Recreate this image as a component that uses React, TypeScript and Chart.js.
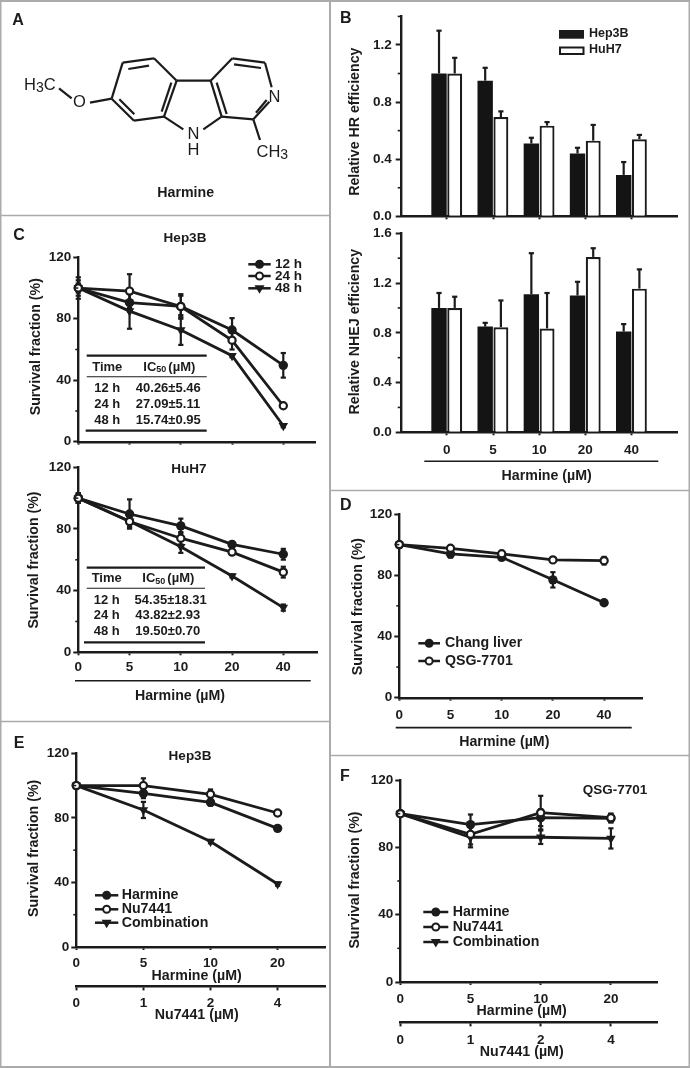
import React, { useEffect, useRef } from "react";
import { Chart, registerables } from "chart.js";

Chart.register(...registerables);
Chart.defaults.font.family = "'Liberation Sans', Arial, sans-serif";

// ---------- data ----------
const doses = ["0", "5", "10", "20", "40"];
const harmineDoses = ["0", "5", "10", "20"];
const nu7441Doses = ["0", "1", "2", "4"];

const hrHep3B = [1.0, 0.95, 0.51, 0.44, 0.29];
const hrHep3BErr = [0.3, 0.09, 0.04, 0.04, 0.09];
const hrHuH7 = [1.0, 0.695, 0.635, 0.53, 0.54];
const hrHuH7Err = [0.11, 0.04, 0.025, 0.11, 0.03];

const nhejHep3B = [1.0, 0.85, 1.11, 1.1, 0.81];
const nhejHep3BErr = [0.12, 0.03, 0.33, 0.11, 0.06];
const nhejHuH7 = [1.0, 0.845, 0.835, 1.41, 1.155];
const nhejHuH7Err = [0.09, 0.215, 0.285, 0.07, 0.155];

const hep12 = [100, 90.5, 88, 72.7, 49.7];
const hep12Err = [7, 6, 7, 7.7, 8];
const hep24 = [100, 98, 88, 66, 23.4];
const hep24Err = [5, 11, 8, 6, 1];
const hep48 = [100, 85, 72.7, 56, 10.4];
const hep48Err = [3, 11.5, 9.7, 1, 1];

const huh12 = [100, 89.7, 82, 70, 63.6];
const huh12Err = [3, 9.5, 4.7, 1.5, 3.5];
const huh24 = [100, 84.8, 74, 65, 52];
const huh24Err = [3, 3.5, 4, 1.5, 3.5];
const huh48 = [100, 85, 68.5, 49.5, 29];
const huh48Err = [3, 2, 4, 1, 2];

const chang = [100, 94, 91.7, 77, 62];
const changErr = [1, 2.5, 1, 5, 1];
const qsg = [100, 97.6, 94, 90, 89.5];
const qsgErr = [1, 1.5, 1, 1, 2.5];

const eHarmine = [100, 95.2, 89.6, 73.5];
const eHarmineErr = [1, 3, 2, 1];
const eNu = [100, 100, 94.6, 83];
const eNuErr = [1, 4.5, 3, 1];
const eCombo = [100, 84.9, 65.3, 39];
const eComboErr = [1, 5, 1, 1];

const fHarmine = [100, 93.5, 97.6, 97.2];
const fHarmineErr = [1, 6, 5, 2.5];
const fNu = [100, 87.7, 100.6, 97.6];
const fNuErr = [1, 6, 10, 2.5];
const fCombo = [100, 86, 86, 85.3];
const fComboErr = [1, 6, 4, 6];

const survivalMajor = [0, 40, 80, 120];
const survivalMinor = [20, 60, 100];
const hrMajor = [0, 0.4, 0.8, 1.2];
const hrMinor = [0.2, 0.6, 1.0, 1.4];
const nhejMajor = [0, 0.4, 0.8, 1.2, 1.6];
const nhejMinor = [0.2, 0.6, 1.0, 1.4];

const table1Rows = [["12 h", "40.26±5.46"], ["24 h", "27.09±5.11"], ["48 h", "15.74±0.95"]];
const table2Rows = [["12 h", "54.35±18.31"], ["24 h", "43.82±2.93"], ["48 h", "19.50±0.70"]];

// ---------- styling ----------
const INK = "#1b1b1b";
const FRAME = "#ababab";
const W = 690;
const H = 1068;
const TICK = 13.5;
const LABEL = 14.2;
const BOLD = "bold";
const AXIS_W = 2.4;
const LINE_W = 2.8;

type Tx = { t: string; x: number; y: number; size?: number; rot?: boolean; align?: CanvasTextAlign; weight?: string };
type Ru = [number, number, number, number, number?];
type Ln = { label: string; values: number[]; errors: number[]; marker: "filled" | "open" | "down" };

function text(ctx: CanvasRenderingContext2D, o: Tx) {
  ctx.save();
  ctx.fillStyle = INK;
  ctx.font = `${o.weight ?? BOLD} ${o.size ?? TICK}px 'Liberation Sans', Arial, sans-serif`;
  ctx.textAlign = o.align ?? "center";
  ctx.textBaseline = "middle";
  ctx.translate(o.x, o.y);
  if (o.rot) ctx.rotate(-Math.PI / 2);
  ctx.fillText(o.t, 0, 0);
  ctx.restore();
}

function runs(ctx: CanvasRenderingContext2D, parts: [string, number, number, number][], x: number, y: number, weight: string) {
  ctx.save();
  ctx.fillStyle = INK;
  ctx.textAlign = "left";
  ctx.textBaseline = "middle";
  let cx = x;
  for (const [t, size, dy, gap] of parts) {
    ctx.font = `${weight} ${size}px 'Liberation Sans', Arial, sans-serif`;
    ctx.fillText(t, cx, y + dy);
    cx += ctx.measureText(t).width + gap;
  }
  ctx.restore();
}

function rule(ctx: CanvasRenderingContext2D, r: Ru, color = INK) {
  ctx.save();
  ctx.strokeStyle = color;
  ctx.lineWidth = r[4] ?? 2;
  ctx.lineCap = "butt";
  ctx.beginPath();
  ctx.moveTo(r[0], r[1]);
  ctx.lineTo(r[2], r[3]);
  ctx.stroke();
  ctx.restore();
}

function marker(ctx: CanvasRenderingContext2D, kind: Ln["marker"], x: number, y: number) {
  ctx.save();
  ctx.strokeStyle = INK;
  ctx.fillStyle = kind === "open" ? "#fff" : INK;
  ctx.lineWidth = 2;
  ctx.beginPath();
  if (kind === "down") {
    ctx.moveTo(x - 5, y - 3);
    ctx.lineTo(x + 5, y - 3);
    ctx.lineTo(x, y + 5.5);
    ctx.closePath();
    ctx.fill();
  } else {
    ctx.arc(x, y, kind === "open" ? 3.5 : 4.5, 0, Math.PI * 2);
    ctx.fill();
    if (kind === "open") ctx.stroke();
  }
  ctx.restore();
}

const moleculeBonds: Ru[] = [
  [368, 188, 462, 175], [462, 175, 530, 242], [530, 242, 492, 350], [492, 350, 402, 362],
  [402, 362, 335, 296], [335, 296, 368, 188], [385, 207, 447, 197], [514, 248, 485, 335],
  [403, 343, 358, 298], [530, 242, 632, 242], [632, 242, 665, 350], [492, 350, 550, 388],
  [665, 350, 610, 388], [650, 248, 680, 342], [632, 242, 697, 175], [697, 175, 795, 188],
  [795, 188, 815, 262], [665, 350, 760, 358], [760, 358, 808, 305], [768, 338, 800, 300],
  [702, 193, 783, 204], [760, 358, 780, 420], [335, 296, 270, 308], [215, 295, 177, 265],
];

const frameLines: Ru[] = [
  [0, 1, 690, 1, 2], [0.5, 0, 0.5, 1068, 2], [689.5, 0, 689.5, 1068, 2], [0, 1067, 690, 1067, 2],
  [330, 0, 330, 1068, 2], [0, 215.5, 330, 215.5, 1.6], [0, 721.5, 330, 721.5, 1.6],
  [330, 490.5, 690, 490.5, 1.6], [330, 755.5, 690, 755.5, 1.6],
];

const letters: Tx[] = [
  { t: "A", x: 18, y: 21, size: 16 }, { t: "B", x: 345.7, y: 18.3, size: 16 },
  { t: "C", x: 19, y: 235.7, size: 16 }, { t: "D", x: 345.7, y: 505.7, size: 16 },
  { t: "E", x: 19, y: 743.3, size: 16 }, { t: "F", x: 345, y: 776.7, size: 16 },
];

function drawDecor(ctx: CanvasRenderingContext2D) {
  frameLines.forEach((r) => rule(ctx, r, FRAME));
  letters.forEach((l) => text(ctx, l));
  moleculeBonds.forEach((b) => rule(ctx, [b[0] / 3, b[1] / 3, b[2] / 3, b[3] / 3, 2.2]));
  const m = { size: 16.5, weight: "normal" };
  runs(ctx, [["H", 16.5, 0, 0], ["3", 14, 3, 0], ["C", 16.5, 0, 0]], 24, 85, "normal");
  text(ctx, { t: "O", x: 79.5, y: 102, ...m });
  text(ctx, { t: "N", x: 274.5, y: 97.7, ...m });
  text(ctx, { t: "N", x: 193.5, y: 134, ...m });
  text(ctx, { t: "H", x: 193.5, y: 150.5, ...m });
  runs(ctx, [["CH", 16.5, 0, 0], ["3", 14, 3, 0]], 256.5, 152.5, "normal");
  text(ctx, { t: "Harmine", x: 185.7, y: 193.5, size: 14.2 });
}

function drawTable(ctx: CanvasRenderingContext2D, t: any) {
  rule(ctx, [t.x1, t.top, t.x2, t.top, 2.2]);
  rule(ctx, [t.x1, t.mid, t.x2, t.mid, 1.1]);
  rule(ctx, [t.x0, t.bot, t.x2, t.bot, 2.2]);
  text(ctx, { t: "Time", x: t.c1, y: t.headY, size: 13 });
  runs(ctx, [["IC", 13, 0, 0], ["50", 9, 3, 2], ["(µM)", 13, 0, 0]], t.icX, t.headY, BOLD);
  t.rows.forEach((r: string[], i: number) => {
    text(ctx, { t: r[0], x: t.c1, y: t.rowY[i], size: 13 });
    text(ctx, { t: r[1], x: t.c2[i], y: t.rowY[i], size: 13 });
  });
}

// ---------- panels ----------
const panels: any[] = [
  {
    kind: "line", decor: true,
    box: { l: 78.3, r: 315, t: 257.3, b: 441.7 }, step: 51.25, xLabels: doses, xShow: false,
    series: [
      { label: "12 h", values: hep12, errors: hep12Err, marker: "filled" },
      { label: "24 h", values: hep24, errors: hep24Err, marker: "open" },
      { label: "48 h", values: hep48, errors: hep48Err, marker: "down" },
    ] as Ln[],
    legend: { x1: 248.3, x2: 270.7, tx: 275, ys: [264.3, 276, 288.3], size: 13.5 },
    texts: [
      { t: "Hep3B", x: 185, y: 238.3, size: 13.5 },
      { t: "Survival fraction (%)", x: 36, y: 346.7, size: LABEL, rot: true },
    ],
    table: { x0: 85.7, x1: 86.7, x2: 206.7, top: 355.7, mid: 376.7, bot: 430.7, c1: 107.3, icX: 143.3, headY: 367, rowY: [388, 404, 420], c2: [168.3, 168, 168.3], rows: table1Rows },
  },
  {
    kind: "line",
    box: { l: 78.3, r: 317, t: 467.3, b: 652.3 }, step: 51.25, xLabels: doses, xShow: true, xPad: 4,
    series: [
      { label: "12 h", values: huh12, errors: huh12Err, marker: "filled" },
      { label: "24 h", values: huh24, errors: huh24Err, marker: "open" },
      { label: "48 h", values: huh48, errors: huh48Err, marker: "down" },
    ] as Ln[],
    texts: [
      { t: "HuH7", x: 189, y: 469, size: 13.5 },
      { t: "Survival fraction (%)", x: 34, y: 560, size: LABEL, rot: true },
      { t: "Harmine (µM)", x: 180, y: 695.7, size: LABEL },
    ],
    rules: [[75, 680.7, 310.7, 680.7, 1.4]],
    table: { x0: 84, x1: 86.7, x2: 205, top: 567.7, mid: 588.3, bot: 642.3, c1: 106.7, icX: 142.3, headY: 578.7, rowY: [600, 615.7, 631.7], c2: [170.7, 167.7, 167.7], rows: table2Rows },
  },
  {
    kind: "bar",
    box: { l: 400.7, r: 677.7, t: 15.7, b: 216.3 }, yMax: 1.405, major: hrMajor, minor: hrMinor, digits: 1, yPad: 4, xShow: false,
    a: hrHep3B, aErr: hrHep3BErr, b: hrHuH7, bErr: hrHuH7Err,
    barLegend: true,
    texts: [{ t: "Relative HR efficiency", x: 355, y: 121.7, size: LABEL, rot: true }],
  },
  {
    kind: "bar",
    box: { l: 400.7, r: 677.7, t: 233.3, b: 432.3 }, yMax: 1.6, major: nhejMajor, minor: nhejMinor, digits: 1, yPad: 4, xShow: true, xPad: 7,
    a: nhejHep3B, aErr: nhejHep3BErr, b: nhejHuH7, bErr: nhejHuH7Err,
    texts: [
      { t: "Relative NHEJ efficiency", x: 355, y: 331.7, size: LABEL, rot: true },
      { t: "Harmine (µM)", x: 546.7, y: 476, size: LABEL },
    ],
    rules: [[424.3, 461.3, 658.3, 461.3, 1.4]],
  },
  {
    kind: "line",
    box: { l: 399.3, r: 642.3, t: 514, b: 697.7 }, step: 51.2, xLabels: doses, xShow: true, xPad: 6,
    series: [
      { label: "Chang liver", values: chang, errors: changErr, marker: "filled" },
      { label: "QSG-7701", values: qsg, errors: qsgErr, marker: "open" },
    ] as Ln[],
    legend: { x1: 418.3, x2: 440, tx: 445, ys: [643.3, 661], size: LABEL },
    texts: [
      { t: "Survival fraction (%)", x: 358.3, y: 606.7, size: LABEL, rot: true },
      { t: "Harmine (µM)", x: 504.3, y: 742.3, size: LABEL },
    ],
    rules: [[395.7, 727.7, 631.7, 727.7, 1.8]],
  },
  {
    kind: "line",
    box: { l: 76.3, r: 325, t: 753.3, b: 947 }, step: 67.1, xLabels: harmineDoses, x2Labels: nu7441Doses, x2Y: 986, x2Pad: 6, xShow: true, xPad: 5.5,
    series: [
      { label: "Harmine", values: eHarmine, errors: eHarmineErr, marker: "filled" },
      { label: "Nu7441", values: eNu, errors: eNuErr, marker: "open" },
      { label: "Combination", values: eCombo, errors: eComboErr, marker: "down" },
    ] as Ln[],
    legend: { x1: 95, x2: 118.3, tx: 121.7, ys: [895.3, 909.3, 922.7], size: LABEL },
    texts: [
      { t: "Hep3B", x: 190, y: 756.7, size: 13.5 },
      { t: "Survival fraction (%)", x: 34, y: 848.3, size: LABEL, rot: true },
      { t: "Harmine (µM)", x: 196.7, y: 976, size: LABEL },
      { t: "Nu7441 (µM)", x: 196.7, y: 1015.3, size: LABEL },
    ],
  },
  {
    kind: "line",
    box: { l: 400.3, r: 657.3, t: 780, b: 982 }, step: 70.2, xLabels: harmineDoses, x2Labels: nu7441Doses, x2Y: 1022.3, x2Pad: 7, xShow: true, xPad: 6,
    series: [
      { label: "Harmine", values: fHarmine, errors: fHarmineErr, marker: "filled" },
      { label: "Nu7441", values: fNu, errors: fNuErr, marker: "open" },
      { label: "Combination", values: fCombo, errors: fComboErr, marker: "down" },
    ] as Ln[],
    legend: { x1: 423.3, x2: 448.3, tx: 452.7, ys: [912, 927, 942], size: LABEL },
    texts: [
      { t: "QSG-7701", x: 615, y: 790.7, size: 13.5 },
      { t: "Survival fraction (%)", x: 355, y: 880, size: LABEL, rot: true },
      { t: "Harmine (µM)", x: 521.7, y: 1011, size: LABEL },
      { t: "Nu7441 (µM)", x: 521.7, y: 1051.7, size: LABEL },
    ],
  },
];

const tickOpts = (pad: number, cb: any) => ({
  color: INK,
  padding: pad,
  autoSkip: false,
  maxRotation: 0,
  minRotation: 0,
  font: { size: TICK, weight: BOLD as any },
  callback: cb,
});
const axisLook = (tl: number) => ({
  border: { display: true, color: INK, width: AXIS_W },
  grid: { drawOnChartArea: false, drawTicks: true, tickLength: tl, tickWidth: 2, tickColor: INK },
});

function overlay(p: any) {
  return {
    id: "overlay",
    beforeDatasetsDraw(chart: any) {
      const ctx = chart.ctx as CanvasRenderingContext2D;
      const y = chart.scales.y;
      chart.data.datasets.forEach((ds: any, di: number) => {
        const meta = chart.getDatasetMeta(di);
        ds.data.forEach((d: any, i: number) => {
          const v = d == null ? null : typeof d === "number" ? d : d.y;
          const e = ds.errs?.[i];
          if (v == null || e == null) return;
          const x = meta.data[i].x;
          const hi = y.getPixelForValue(v + e);
          const lo = y.getPixelForValue(p.kind === "bar" ? v : v - e);
          rule(ctx, [x, hi, x, lo, 2.2]);
          rule(ctx, [x - 2.6, hi, x + 2.6, hi, 2.2]);
          if (p.kind !== "bar") rule(ctx, [x - 2.6, lo, x + 2.6, lo, 2.2]);
        });
      });
    },
    afterDraw(chart: any) {
      const ctx = chart.ctx as CanvasRenderingContext2D;
      const y = chart.scales.y;
      const minors: number[] = p.minor ?? survivalMinor;
      minors.forEach((v) => {
        const py = y.getPixelForValue(v);
        rule(ctx, [p.box.l - 3, py, p.box.l, py, 1.6]);
      });
      if (p.decor) drawDecor(ctx);
      (p.texts ?? []).forEach((t: Tx) => text(ctx, t));
      (p.rules ?? []).forEach((r: Ru) => rule(ctx, r));
      if (p.table) drawTable(ctx, p.table);
      if (p.legend) {
        const lg = p.legend;
        p.series.forEach((s: Ln, i: number) => {
          rule(ctx, [lg.x1, lg.ys[i], lg.x2, lg.ys[i], 2.5]);
          marker(ctx, s.marker, (lg.x1 + lg.x2) / 2, lg.ys[i]);
          text(ctx, { t: s.label, x: lg.tx, y: lg.ys[i], size: lg.size, align: "left" });
        });
      }
      if (p.barLegend) {
        ctx.fillStyle = INK;
        ctx.fillRect(559, 30, 25, 8.7);
        ctx.fillStyle = "#fff";
        ctx.strokeStyle = INK;
        ctx.lineWidth = 2;
        ctx.strokeRect(560, 47.5, 23.5, 6.5);
        text(ctx, { t: "Hep3B", x: 589, y: 34, size: 12.5, align: "left" });
        text(ctx, { t: "HuH7", x: 589, y: 50, size: 12.5, align: "left" });
      }
    },
  };
}

function buildConfig(p: any) {
  // the axes own the whole strip of page outside the plot, so chartArea lands on p.box
  const layout = {
    autoPadding: false,
    padding: { left: 0, right: W - p.box.r, top: p.box.t, bottom: 0 },
  };
  const fitY = (s: any) => { s.width = p.box.l; };
  const fitX = (s: any) => { s.height = H - p.box.b; };
  const common = {
    responsive: false,
    animation: false as const,
    devicePixelRatio: 1,
    layout,
    events: [] as any[],
    plugins: { legend: { display: false }, tooltip: { enabled: false }, title: { display: false } },
  };
  const yScale = (max: number, major: number[], digits: number, pad: number) => ({
    type: "linear" as const,
    min: 0,
    max,
    afterBuildTicks: (s: any) => { s.ticks = major.map((value) => ({ value })); },
    afterFit: fitY,
    ticks: tickOpts(pad, (v: number) => v.toFixed(digits)),
    ...axisLook(5),
  });

  if (p.kind === "bar") {
    const categories = ["", ...doses, ""];
    const pad = (a: number[]) => [null, ...a, null];
    return {
      type: "bar" as const,
      data: {
        labels: categories,
        datasets: [
          { label: "Hep3B", data: pad(p.a), errs: pad(p.aErr), backgroundColor: "#141414", borderColor: "#141414", borderWidth: 0, barPercentage: 0.98, categoryPercentage: 0.68 },
          { label: "HuH7", data: pad(p.b), errs: pad(p.bErr), backgroundColor: "#ffffff", borderColor: INK, borderWidth: 2.2, barPercentage: 0.95, categoryPercentage: 0.68 },
        ],
      },
      options: {
        ...common,
        scales: {
          x: {
            type: "category" as const,
            offset: false,
            afterBuildTicks: (s: any) => { s.ticks = s.ticks.filter((t: any) => t.value >= 1 && t.value <= 5); },
            afterFit: fitX,
            ticks: tickOpts(p.xPad ?? 3, (v: number) => (p.xShow ? categories[v] : "")),
            ...axisLook(3),
            grid: { ...axisLook(3).grid, offset: false },
          },
          y: yScale(p.yMax, p.major, p.digits, p.yPad),
        },
      },
    };
  }

  const xMax = (p.box.r - p.box.l) / p.step;
  const scales: any = {
    x: {
      type: "linear" as const,
      min: 0,
      max: xMax,
      afterBuildTicks: (s: any) => { s.ticks = p.xLabels.map((_: string, value: number) => ({ value })); },
      afterFit: fitX,
      ticks: tickOpts(p.xPad ?? 2, (v: number) => (p.xShow ? p.xLabels[v] : "")),
      ...axisLook(3),
    },
    y: yScale(120, survivalMajor, 0, 2),
  };
  if (p.x2Labels) {
    const unit = (p.box.b - p.box.t) / 120;
    scales.x2 = {
      type: "linear" as const,
      axis: "x",
      position: { y: -(p.x2Y - p.box.b) / unit },
      min: 0,
      max: xMax,
      afterBuildTicks: (s: any) => { s.ticks = p.x2Labels.map((_: string, value: number) => ({ value })); },
      afterFit: (s: any) => { s.height = 0; },
      ticks: tickOpts(p.x2Pad, (v: number) => p.x2Labels[v]),
      ...axisLook(3),
    };
  }
  const orderOf = { open: 1, filled: 2, down: 3 };
  return {
    type: "line" as const,
    data: {
      datasets: p.series.map((s: Ln) => ({
        label: s.label,
        data: s.values.map((y, x) => ({ x, y })),
        errs: s.errors,
        order: orderOf[s.marker],
        clip: false,
        borderColor: INK,
        borderWidth: LINE_W,
        tension: 0,
        pointStyle: s.marker === "down" ? "triangle" : "circle",
        pointRotation: s.marker === "down" ? 180 : 0,
        pointRadius: s.marker === "open" ? 3.6 : s.marker === "down" ? 5.5 : 4.7,
        pointBackgroundColor: s.marker === "open" ? "#ffffff" : INK,
        pointBorderColor: INK,
        pointBorderWidth: s.marker === "open" ? 2.2 : 0,
      })),
    },
    options: { ...common, scales },
  };
}

export default function App() {
  const refs = useRef<(HTMLCanvasElement | null)[]>([]);
  useEffect(() => {
    const charts = panels.map((p, i) => {
      const cfg: any = buildConfig(p);
      cfg.plugins = [overlay(p)];
      return new Chart(refs.current[i] as HTMLCanvasElement, cfg);
    });
    return () => charts.forEach((c) => c.destroy());
  }, []);
  return (
    <div style={{ position: "absolute", left: 0, top: 0, width: W, height: H, background: "#fff", overflow: "hidden" }}>
      {panels.map((_, i) => (
        <canvas
          key={i}
          ref={(el) => { refs.current[i] = el; }}
          width={W}
          height={H}
          style={{ position: "absolute", left: 0, top: 0, width: W, height: H }}
        />
      ))}
    </div>
  );
}
